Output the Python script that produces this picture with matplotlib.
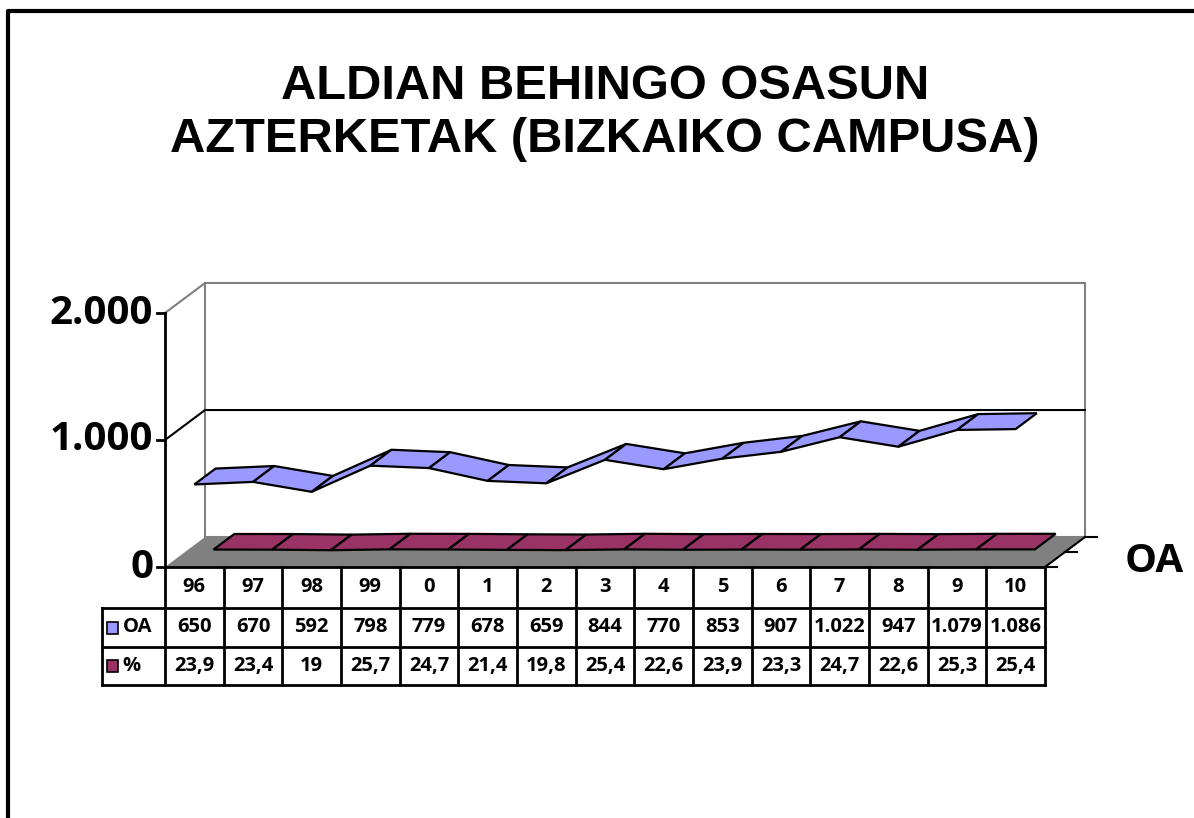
import matplotlib.pyplot as plt
import matplotlib.transforms as mtransforms
from matplotlib.patches import Polygon, Rectangle
from matplotlib.lines import Line2D

# datos
years = ["96", "97", "98", "99", "0", "1", "2", "3", "4", "5", "6", "7", "8", "9", "10"]
oa = [650, 670, 592, 798, 779, 678, 659, 844, 770, 853, 907, 1022, 947, 1079, 1086]
pct = [23.9, 23.4, 19, 25.7, 24.7, 21.4, 19.8, 25.4, 22.6, 23.9, 23.3, 24.7, 22.6, 25.3, 25.4]
yticks = [0, 1000, 2000]

title = "ALDIAN BEHINGO OSASUN\nAZTERKETAK (BIZKAIKO CAMPUSA)"
c_oa = "#9999FF"
c_pct = "#993366"
grey = "#808080"
font = "Open Sans"

W, H = 1194, 818
fig = plt.figure(figsize=(W / 100, H / 100), dpi=100)
fx = lambda px: px / W
fy = lambda py: 1 - py / H

# frente del grafico (plano frontal)
ax = fig.add_axes([fx(165), fy(567), fx(1045) - fx(165), fy(313) - fy(567)])
n = len(years)
ymax = 2000
ax.set_xlim(0, n)
ax.set_ylim(0, ymax)
ax.axis("off")

# vector de profundidad (efecto 3d)
DX, DY = 0.682, 236

# pared del fondo
ax.add_patch(Polygon([(DX, DY), (n + DX, DY), (n + DX, ymax + DY), (DX, ymax + DY)],
                     closed=True, fc="white", ec=grey, lw=1.5, clip_on=False, zorder=1))
ax.plot([0, DX], [ymax, ymax + DY], color=grey, lw=1.5, clip_on=False, zorder=1)
# linea de la cuadricula en 1000
ax.plot([0, DX, n + DX], [1000, 1000 + DY, 1000 + DY], color="black", lw=1.5,
        clip_on=False, zorder=2)
# suelo
ax.add_patch(Polygon([(0, 0), (n, 0), (n + DX, DY), (DX, DY)], closed=True,
                     fc=grey, ec="none", clip_on=False, zorder=2))
ax.plot([n, n + DX], [0, DY], color="black", lw=1.5, clip_on=False, zorder=3)
for d in [0, 0.5, 1]:
    ax.plot([n + d * DX, n + d * DX + 0.2], [d * DY, d * DY], color="black", lw=1.5,
            clip_on=False, zorder=3)

# eje y
ax.plot([0, 0], [0, ymax], color="black", lw=2, clip_on=False, zorder=3)
for v in yticks:
    ax.plot([-0.14, 0], [v, v], color="black", lw=2, clip_on=False, zorder=3)
    ax.text(-0.2, v, f"{v:,}".replace(",", "."), ha="right", va="center",
            fontsize=29, fontweight="bold", family=font, clip_on=False)


def ribbon(vals, d0, d1, color, z):
    for i in range(len(vals) - 1):
        p = lambda j, d: (j + 0.5 + d * DX, vals[j] + d * DY)
        quad = [p(i, d0), p(i + 1, d0), p(i + 1, d1), p(i, d1)]
        ax.add_patch(Polygon(quad, closed=True, fc=color, ec="black", lw=1.6,
                             joinstyle="miter", clip_on=False, zorder=z))


ribbon(pct, 0.48, 1.0, c_pct, 4)
ribbon(oa, 0.0, 0.53, c_oa, 5)

fig.text(fx(1154), fy(562), "OA", ha="center", va="center", fontsize=29,
         fontweight="bold", family=font)

# tabla de datos
trans = mtransforms.blended_transform_factory(ax.transData, fig.transFigure)
rows = [567, 608, 647, 685]
xl = (102 - 165) / 58.67
lk = dict(color="black", lw=2, transform=trans, clip_on=False)
fig.add_artist(Line2D([0, n], [fy(rows[0])] * 2, **lk))
for r in rows[1:]:
    fig.add_artist(Line2D([xl, n], [fy(r)] * 2, **lk))
for i in range(n + 1):
    fig.add_artist(Line2D([i, i], [fy(rows[0]), fy(rows[-1])], **lk))
fig.add_artist(Line2D([xl, xl], [fy(rows[1]), fy(rows[-1])], **lk))

tk = dict(ha="center", va="center", fontsize=14.5, fontweight="bold", family=font,
          transform=trans)
oa_txt = [f"{v:,}".replace(",", ".") for v in oa]
pct_txt = [("%g" % v).replace(".", ",") for v in pct]
for i in range(n):
    fig.text(i + 0.5, fy((rows[0] + rows[1]) / 2), years[i], **tk)
    fig.text(i + 0.5, fy((rows[1] + rows[2]) / 2), oa_txt[i], **tk)
    fig.text(i + 0.5, fy((rows[2] + rows[3]) / 2), pct_txt[i], **tk)

for k, (lab, col) in enumerate([("OA", c_oa), ("%", c_pct)]):
    yc = (rows[k + 1] + rows[k + 2]) / 2
    fig.add_artist(Rectangle((xl + 0.08, fy(yc + 6)), 0.2, 12 / H, fc=col, ec="black",
                             lw=1.2, transform=trans))
    fig.text(xl + 0.35, fy(yc), lab, ha="left", va="center", fontsize=14.5,
             fontweight="bold", family=font, transform=trans)

# titulo
fig.text(fx(605), fy(113), title, ha="center", va="center", fontsize=35.2,
         fontweight="bold", family="Liberation Sans", linespacing=1.25)

# marco
fig.add_artist(Line2D([fx(8), fx(8), 1], [0, fy(11), fy(11)], color="black", lw=3,
                      transform=fig.transFigure))

fig.savefig("out.png", dpi=100)
